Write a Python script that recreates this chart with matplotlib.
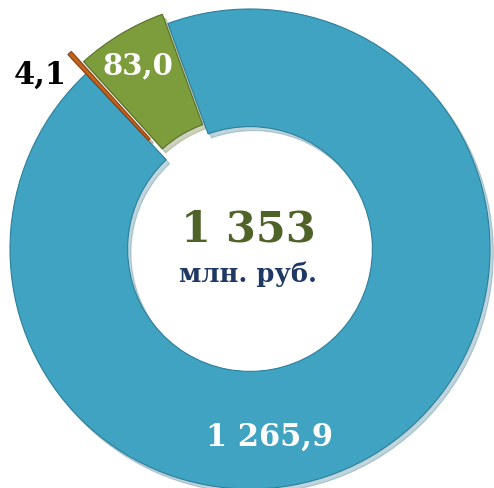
import matplotlib.pyplot as plt
import numpy as np

# данные
values = [1265.9, 4.1, 83.0]
colors = ['#40A3C2', '#C4641C', '#7D9C3C']
edge_colors = ['#2C7F9A', '#8A4010', '#55702A']
explode = [0.0, 0.11, 0.045]
label_colors = ['white', 'black', 'white']
total_unit = 'млн. руб.'


def fmt(v, dec=1):
    s = f'{v:,.{dec}f}'
    return s.replace(',', ' ').replace('.', ',')


W, H = 494, 489
cx, cy, R = 250, 250, 240   # центр и радиус кольца в пикселях


def px(x, y):
    return (x - cx) / R, (cy - y) / R


fig = plt.figure(figsize=(W / 100, H / 100), dpi=100)
ax = fig.add_axes([0, 0, 1, 1])

wedges, _ = ax.pie(values, colors=colors, explode=explode, startangle=110,
                   counterclock=False, radius=1.0,
                   wedgeprops=dict(width=0.49, linewidth=0.8),
                   shadow={'ox': 0.01, 'oy': -0.012, 'shade': 0.3,
                           'alpha': 0.3})
for w, ec in zip(wedges, edge_colors):
    w.set_edgecolor(ec)

ax.set_xlim(px(0, 0)[0], px(W, 0)[0])
ax.set_ylim(px(0, H)[1], px(0, 0)[1])
ax.set_aspect('auto')
ax.axis('off')

font = 'DejaVu Serif'
label_pos = [px(270, 437), px(40, 75), px(138, 66)]
label_size = [22, 22, 21]
for v, pos, c, fs in zip(values, label_pos, label_colors, label_size):
    ax.text(pos[0], pos[1], fmt(v), ha='center', va='center', color=c,
            fontsize=fs, fontweight='bold', family=font)

tx, ty = px(248, 229)
ax.text(tx, ty, fmt(sum(values), 0), ha='center', va='center', color='#4F6228',
        fontsize=31, fontweight='bold', family=font)
tx, ty = px(248, 274)
ax.text(tx, ty, total_unit, ha='center', va='center', color='#1F3864',
        fontsize=18.5, fontweight='bold', family=font)

fig.savefig('out.png', dpi=100)
